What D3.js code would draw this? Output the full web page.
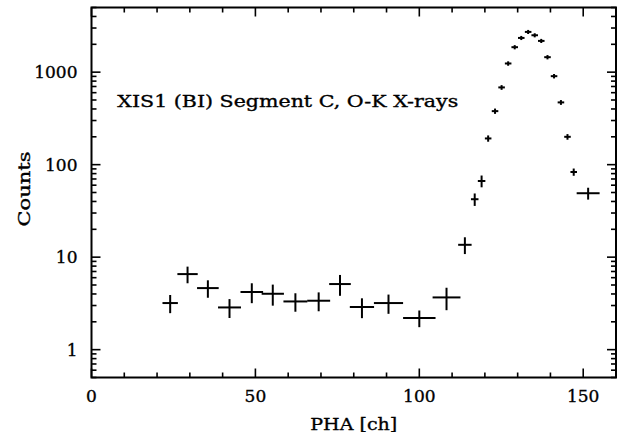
<!DOCTYPE html>
<html><head><meta charset="utf-8">
<script src="https://cdn.jsdelivr.net/npm/d3@7"></script>
<style>
html,body{margin:0;padding:0;background:#fff;}
svg{display:block;}
text{font-family:"DejaVu Serif",serif;fill:#000;stroke:#000;stroke-width:0.35px;}
</style></head>
<body>
<script>
// ---- data ----
const pha    = [24.0, 29.3, 35.5, 42.1, 48.9, 55.3, 62.2, 69.3, 75.8, 82.5, 90.6, 100.0, 108.3, 113.9, 116.9, 119.0, 121.0, 123.1, 125.1, 127.1, 129.1, 131.1, 133.2, 135.2, 137.2, 139.1, 141.1, 143.2, 145.2, 147.1, 151.5];
const phaErr = [2.35, 3.1, 3.3, 3.5, 3.45, 3.4, 3.65, 3.5, 3.3, 3.7, 4.45, 4.95, 4.25, 2.05, 1.15, 1.15, 1.0, 1.0, 1.0, 1.0, 1.0, 1.0, 1.0, 1.0, 1.0, 1.0, 1.0, 1.0, 1.0, 1.0, 3.5];
const counts = [3.19, 6.56, 4.63, 2.86, 4.2, 4.02, 3.32, 3.38, 5.12, 2.89, 3.19, 2.2, 3.67, 13.6, 42.3, 66.6, 192, 379, 684, 1241, 1862, 2344, 2723, 2506, 2177, 1452, 905, 471, 200, 83.3, 49.1];
const cntErr = [0.71, 1.34, 0.99, 0.66, 1.02, 1.03, 0.75, 0.78, 1.3, 0.7, 0.75, 0.45, 1.0, 2.8, 6.5, 9.7, 15, 25, 40, 68, 98, 120, 138, 128, 112, 78, 50, 28, 14, 7.5, 7.2];
const xTickLabels = [0, 50, 100, 150];
const yTickLabels = [1, 10, 100, 1000];
const label = "XIS1 (BI) Segment C, O-K X-rays";
const xTitle = "PHA [ch]";
const yTitle = "Counts";

// ---- layout ----
const W = 621, H = 434;
const L = 91.5, R = 616, T = 7.5, B = 377.5;
const x = d3.scaleLinear().domain([0, 160]).range([L, R]);
const y = d3.scaleLog().domain([0.5, 5000]).range([B, T]);

const svg = d3.select("body").append("svg").attr("width", W).attr("height", H);

// minor/major ticks
const xMinor = d3.range(0, 161, 10);
const yMinor = [];
[0.1, 1, 10, 100, 1000].forEach(d => { for (let k = 1; k <= 9; k++) { const v = d * k; if (v >= 0.5 && v <= 5000) yMinor.push(v); } });

const tg = svg.append("g").attr("stroke", "#000").attr("stroke-width", 1.6);
xMinor.forEach(v => {
  const len = (v % 50 === 0) ? 9 : 5;
  tg.append("line").attr("x1", x(v)).attr("x2", x(v)).attr("y1", B).attr("y2", B - len);
  tg.append("line").attr("x1", x(v)).attr("x2", x(v)).attr("y1", T).attr("y2", T + len);
});
yMinor.forEach(v => {
  const major = yTickLabels.includes(v);
  const len = major ? 9 : 5;
  tg.append("line").attr("x1", L).attr("x2", L + len).attr("y1", y(v)).attr("y2", y(v));
  tg.append("line").attr("x1", R).attr("x2", R - len).attr("y1", y(v)).attr("y2", y(v));
});

// frame
svg.append("rect").attr("x", L).attr("y", T).attr("width", R - L).attr("height", B - T)
  .attr("fill", "none").attr("stroke", "#000").attr("stroke-width", 2);

// tick labels
svg.append("g").selectAll("text").data(xTickLabels).join("text")
  .attr("x", d => x(d)).attr("y", 401.5).attr("text-anchor", "middle")
  .attr("font-size", 17).text(d => d);
svg.append("g").selectAll("text").data(yTickLabels).join("text")
  .attr("x", 77.5).attr("y", d => y(d) + 6).attr("text-anchor", "end")
  .attr("font-size", 17).text(d => d);

// titles
svg.append("text").attr("x", x(80) - 43.5).attr("y", 430)
  .attr("font-size", 17).attr("textLength", 87).attr("lengthAdjust", "spacingAndGlyphs").text(xTitle);
svg.append("text").attr("transform", "translate(29.5,226.5) rotate(-90)")
  .attr("font-size", 17).attr("textLength", 75).attr("lengthAdjust", "spacingAndGlyphs").text(yTitle);

// annotation
svg.append("text").attr("x", 117.3).attr("y", 106.7).attr("font-size", 17)
  .attr("textLength", 341).attr("lengthAdjust", "spacingAndGlyphs").text(label);

// data crosses
const pts = pha.map((p, i) => ({p, e: phaErr[i], c: counts[i], ce: cntErr[i]}));
const dg = svg.append("g").attr("stroke", "#000").attr("stroke-width", 2);
dg.selectAll("line.h").data(pts).join("line").attr("class", "h")
  .attr("x1", d => x(d.p - d.e)).attr("x2", d => x(d.p + d.e))
  .attr("y1", d => y(d.c)).attr("y2", d => y(d.c));
dg.selectAll("line.v").data(pts).join("line").attr("class", "v")
  .attr("x1", d => x(d.p)).attr("x2", d => x(d.p))
  .attr("y1", d => y(d.c + d.ce)).attr("y2", d => y(Math.max(d.c - d.ce, 0.5)));
</script>
</body></html>
